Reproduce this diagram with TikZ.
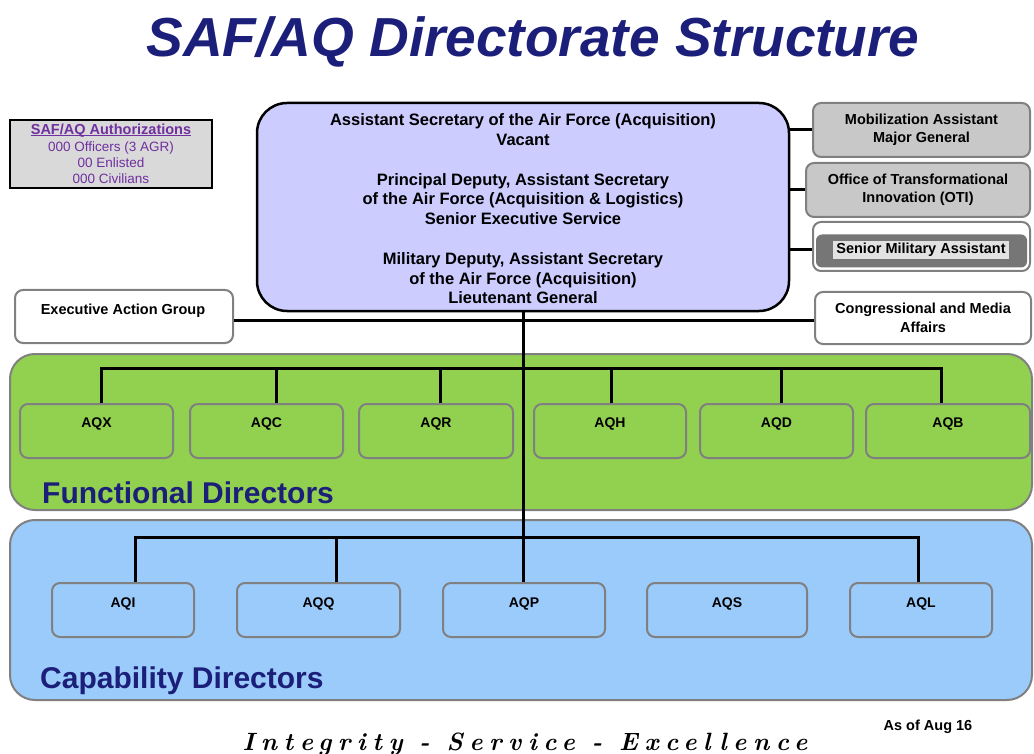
\documentclass[tikz,border=0pt]{standalone}
\usepackage{fontspec}
\setmainfont{Liberation Sans}
\newfontfamily\mottofont{lmroman10-bolditalic.otf}[LetterSpace=26]
\newcommand\fsz[2]{\fontsize{#1}{#2}\selectfont}
\newcommand\tightul[1]{\leavevmode\rlap{\rule[-1.6pt]{\widthof{#1}}{0.9pt}}#1}
\usepackage{calc}

\definecolor{navy}{RGB}{27,31,122}
\definecolor{lav}{RGB}{204,204,255}
\definecolor{greenpanel}{RGB}{146,208,80}
\definecolor{bluepanel}{RGB}{155,203,250}
\definecolor{boxgray}{RGB}{200,200,200}
\definecolor{edgegray}{RGB}{128,128,128}
\definecolor{authpurple}{RGB}{112,48,160}
\definecolor{authfill}{RGB}{217,217,217}
\definecolor{darkband}{RGB}{118,118,118}
\definecolor{hilite}{RGB}{226,226,226}

\tikzset{
  panel/.style={draw=edgegray, line width=2pt, rounded corners=25pt, inner sep=0pt},
  dirbox/.style={draw=edgegray, line width=2pt, rounded corners=8pt, inner sep=0pt},
  sidebox/.style={draw=edgegray, line width=2pt, rounded corners=8pt, inner sep=0pt,
    font=\fsz{14.5}{18.5}\bfseries, align=center},
  dirlabel/.style={font=\fsz{14}{16}\bfseries, inner sep=0pt},
  paneltitle/.style={font=\fsz{30}{34}\bfseries, text=navy, anchor=west, inner sep=0pt},
  wire/.style={line width=3pt, black, line join=miter},
}

\begin{document}
\begin{tikzpicture}[x=1pt, y=-1pt]
\useasboundingbox (0,0) rectangle (1034,754);

% title
\node[font=\fsz{55}{60}\bfseries\itshape, text=navy, anchor=base, inner sep=0pt]
  (title) at (533,57) {SAF/AQ Directorate Structure};

% manpower summary
\node[draw=black, line width=2pt, fill=authfill, minimum width=202pt, minimum height=68pt,
  inner sep=0pt, align=center, text=authpurple, font=\fsz{13.5}{16.3}]
  (auth) at (111,154) {{\fsz{14.5}{16.3}\bfseries\tightul{SAF/AQ Authorizations}}\\
  000 Officers (3 AGR)\\00 Enlisted\\000 Civilians};

% front office
\node[draw=black, line width=2.5pt, fill=lav, rounded corners=30pt, minimum width=532pt,
  minimum height=208pt, inner sep=0pt] (asaf) at (523,207) {};
\node[inner sep=0pt, align=center, font=\fsz{16.5}{19.8}\bfseries]
  (asaftext) at (523,209) {Assistant Secretary of the Air Force (Acquisition)\\Vacant\\[19.8pt]
  Principal Deputy, Assistant Secretary\\of the Air Force (Acquisition \& Logistics)\\
  Senior Executive Service\\[19.8pt]
  Military Deputy, Assistant Secretary\\of the Air Force (Acquisition)\\Lieutenant General};

% staff offices on the right
\node[sidebox, fill=boxgray, minimum width=217pt, minimum height=54pt]
  (mob) at (921.5,130) {Mobilization Assistant\\Major General};
\node[sidebox, fill=boxgray, minimum width=224pt, minimum height=54pt]
  (oti) at (918,190) {Office of Transformational\\Innovation (OTI)};
\node[sidebox, fill=white, minimum width=217pt, minimum height=49pt]
  (sma) at (921.5,246.5) {};
\node[fill=darkband, rounded corners=6pt, minimum width=211pt, minimum height=33pt, inner sep=0pt]
  (smaband) at (921.5,251) {};
\node[fill=hilite, font=\fsz{14.5}{17}\bfseries, inner xsep=3pt, inner ysep=2pt]
  (smatext) at (921,250) {Senior Military Assistant};

\draw[wire] (mob.west -| asaf.east) -- (mob.west);
\draw[wire] (oti.west -| asaf.east) -- (oti.west);
\draw[wire] (smatext.west -| asaf.east) -- (smatext.west -| sma.west);

% staff offices beside the trunk
\node[sidebox, fill=white, minimum width=218pt, minimum height=53pt]
  (eag) at (124,316.5) {};
\node[dirlabel, font=\fsz{14.5}{17}\bfseries] (eagtext) at (123,311) {Executive Action Group};
\node[sidebox, fill=white, minimum width=216pt, minimum height=52pt]
  (cma) at (923,318) {Congressional and Media\\Affairs};
\coordinate (hline) at (523,320);
\draw[wire] (eag.east |- hline) -- (cma.west |- hline);

% functional directors
\node[panel, fill=greenpanel, minimum width=1022pt, minimum height=156pt] (fpanel) at (521,432) {};
\node[paneltitle] (ftitle) at (42,493) {Functional Directors};

\foreach \n/\cx/\w/\lab in {aqx/96.5/153/AQX, aqc/266.5/153/AQC, aqr/436/154/AQR,
                            aqh/610/152/AQH, aqd/776.5/153/AQD, aqb/948/164/AQB}{
  \node[dirbox, fill=greenpanel, minimum width=\w pt, minimum height=54pt] (\n) at (\cx,431) {};
  \node[dirlabel] (\n-t) at (\cx,424) {\lab};
}

% capability directors
\node[panel, fill=bluepanel, minimum width=1022pt, minimum height=180pt] (cpanel) at (521,610) {};
\node[paneltitle] (ctitle) at (40,681) {Capability Directors};

\foreach \n/\cx/\w/\lab in {aqi/123/142/AQI, aqq/318.5/163/AQQ, aqp/524/162/AQP,
                            aqs/727/160/AQS, aql/921/142/AQL}{
  \node[dirbox, fill=bluepanel, minimum width=\w pt, minimum height=54pt] (\n) at (\cx,610) {};
  \node[dirlabel] (\n-t) at (\cx,604) {\lab};
}

% reporting lines
\coordinate (gbus) at (0,368);
\coordinate (bbus) at (0,537);
\draw[wire] ([xshift=4.5pt]aqx.north) |- ([xshift=-7pt]aqb.north |- gbus) -- ([xshift=-7pt]aqb.north);
\draw[wire] ([xshift=9.5pt]aqc.north) -- ([xshift=9.5pt]aqc.north |- gbus);
\draw[wire] ([xshift=4pt]aqr.north) -- ([xshift=4pt]aqr.north |- gbus);
\draw[wire] ([xshift=1pt]aqh.north) -- ([xshift=1pt]aqh.north |- gbus);
\draw[wire] ([xshift=4.5pt]aqd.north) -- ([xshift=4.5pt]aqd.north |- gbus);

\draw[wire] ([xshift=12pt]aqi.north) |- ([xshift=-3pt]aql.north |- bbus) -- ([xshift=-3pt]aql.north);
\draw[wire] ([xshift=17.5pt]aqq.north) -- ([xshift=17.5pt]aqq.north |- bbus);

\draw[wire] (asaf.south) -- (asaf.south |- aqp.north);

% footer
\node[font=\fsz{14.5}{17}\bfseries, inner sep=0pt] (asof) at (928,727) {As of Aug 16};
\node[font=\mottofont\fsz{25}{28}, anchor=base, inner sep=0pt] (motto) at (525,750)
  {Integrity - Service - Excellence};
\end{tikzpicture}
\end{document}
